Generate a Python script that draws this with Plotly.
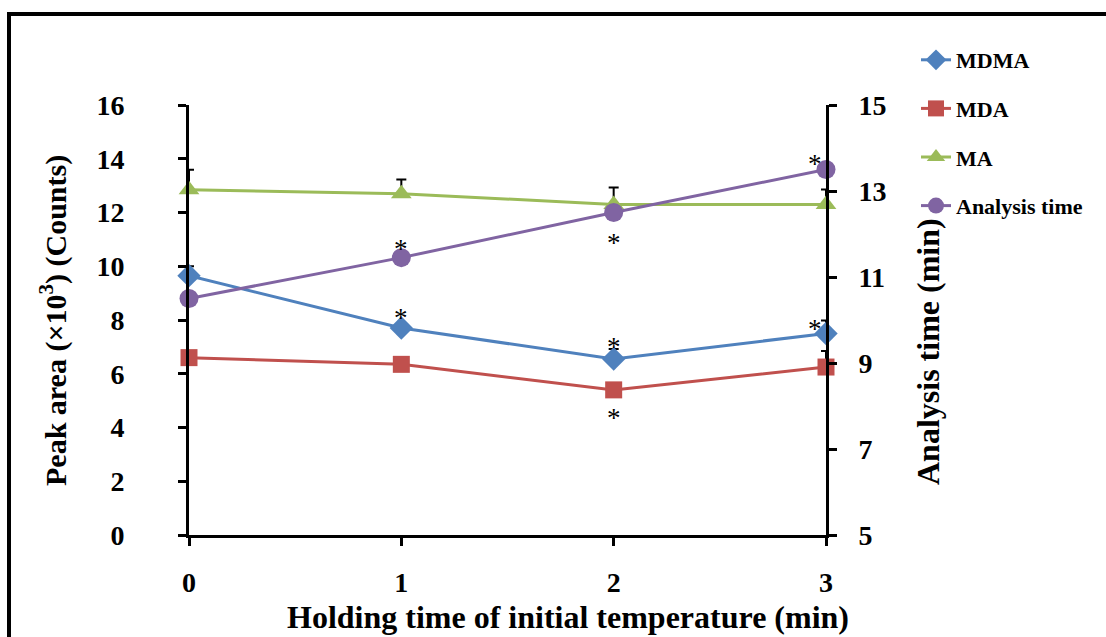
import plotly.graph_objects as go

# ---------------- data ----------------
holding_time = [0, 1, 2, 3]
mdma = [9.65, 7.7, 6.55, 7.5]
mdma_err = [0.35, 0.0, 0.37, 0.48]
mda = [6.6, 6.35, 5.4, 6.25]
mda_err = [0.0, 0.0, 0.0, 0.6]
ma = [12.85, 12.7, 12.3, 12.3]
ma_err = [0.74, 0.53, 0.63, 0.56]
analysis_time = [10.5, 11.45, 12.5, 13.5]

left_ticks = [0, 2, 4, 6, 8, 10, 12, 14, 16]
right_ticks = [5, 7, 9, 11, 13, 15]
x_ticks = [0, 1, 2, 3]

# significance marks: (series, x index)
stars_left = [("MDMA", 1), ("MDMA", 2), ("MDMA", 3), ("MDA", 2)]
stars_right = [1, 2, 3]

# ---------------- style ----------------
FONT = "Liberation Serif"
C_MDMA = "#4F81BD"
C_MDA = "#C0504D"
C_MA = "#9BBB59"
C_AT = "#8064A2"

W, H = 1106, 637
L, R, T, B = 189, 280, 105, 102
PW, PH = W - L - R, H - T - B


def px_x(p):
    return (p - L) / PW


def px_y(p):
    return (H - B - p) / PH


fig = go.Figure()


def err(arr):
    return dict(type="data", symmetric=False, array=arr, arrayminus=[0] * len(arr),
                color="black", thickness=2, width=5)


fig.add_trace(go.Scatter(x=holding_time, y=mdma, name="MDMA", mode="lines+markers",
                         line=dict(color=C_MDMA, width=3),
                         marker=dict(symbol="diamond", size=18, color=C_MDMA),
                         error_y=err(mdma_err), cliponaxis=False, legendgroup="a"))
fig.add_trace(go.Scatter(x=holding_time, y=mda, name="MDA", mode="lines+markers",
                         line=dict(color=C_MDA, width=3),
                         marker=dict(symbol="square", size=17, color=C_MDA),
                         error_y=err(mda_err), cliponaxis=False, legendgroup="b"))
fig.add_trace(go.Scatter(x=holding_time, y=ma, name="MA", mode="lines+markers",
                         line=dict(color=C_MA, width=3),
                         marker=dict(symbol="triangle-up", size=18, color=C_MA),
                         error_y=err(ma_err), cliponaxis=False, legendgroup="c"))
fig.add_trace(go.Scatter(x=holding_time, y=analysis_time, name="Analysis time",
                         mode="lines+markers", yaxis="y2",
                         line=dict(color=C_AT, width=3),
                         marker=dict(symbol="circle", size=19, color=C_AT),
                         cliponaxis=False, legendgroup="d"))

axis_common = dict(showgrid=False, zeroline=False, showline=True, linecolor="black",
                   linewidth=3, ticks="outside", ticklen=8, tickwidth=3, tickcolor="black",
                   tickfont=dict(family=FONT, size=28, color="black", weight="bold"))

fig.update_layout(
    width=W, height=H,
    margin=dict(l=L, r=R, t=T, b=B, pad=0),
    paper_bgcolor="white", plot_bgcolor="white",
    xaxis=dict(range=[0, 3], tickvals=x_ticks, ticklabelstandoff=12, **axis_common),
    yaxis=dict(range=[0, 16], tickvals=left_ticks, ticklabelstandoff=48, **axis_common),
    yaxis2=dict(range=[5, 15], tickvals=right_ticks, overlaying="y", side="right",
                ticklabelstandoff=16, **axis_common),
    showlegend=True,
    legend=dict(x=px_x(916), y=px_y(39), xanchor="left", yanchor="top",
                font=dict(family=FONT, size=22, color="black", weight="bold"),
                tracegroupgap=17, bgcolor="rgba(0,0,0,0)"),
)

annotations = [
    dict(text="Holding time of initial temperature (min)", xref="paper", yref="paper",
         x=px_x(568), y=px_y(617), showarrow=False, xanchor="center", yanchor="middle",
         font=dict(family=FONT, size=32, color="black", weight="bold")),
    dict(text="Peak area (×10<sup>3</sup>) (Counts)", xref="paper", yref="paper",
         x=px_x(53), y=px_y(321), showarrow=False, textangle=-90,
         xanchor="center", yanchor="middle",
         font=dict(family=FONT, size=30, color="black", weight="bold")),
    dict(text="Analysis time (min)", xref="paper", yref="paper",
         x=px_x(928), y=px_y(352), showarrow=False, textangle=-90,
         xanchor="center", yanchor="middle",
         font=dict(family=FONT, size=32, color="black", weight="bold")),
]

series_left = {"MDMA": mdma, "MDA": mda}
# pixel offsets of each star relative to its marker
left_offsets = {("MDMA", 1): (0, 16), ("MDMA", 2): (0, 18), ("MDMA", 3): (-11, 10),
                ("MDA", 2): (0, -22)}
right_offsets = {1: (0, 15), 2: (0, -24), 3: (-11, 12)}
STAR_DY = -6  # glyph baseline correction
for s, i in stars_left:
    dx, dy = left_offsets[(s, i)]
    annotations.append(dict(text="*", x=holding_time[i], y=series_left[s][i], xref="x", yref="y",
                            showarrow=False, xshift=dx, yshift=dy + STAR_DY,
                            font=dict(family=FONT, size=27, color="black")))
for i in stars_right:
    dx, dy = right_offsets[i]
    annotations.append(dict(text="*", x=holding_time[i], y=analysis_time[i], xref="x", yref="y2",
                            showarrow=False, xshift=dx, yshift=dy + STAR_DY,
                            font=dict(family=FONT, size=27, color="black")))
fig.update_layout(annotations=annotations)

# outer frame (left and top edges visible in the image)
fig.add_shape(type="rect", xref="paper", yref="paper",
              x0=px_x(9), x1=px_x(1112), y0=px_y(645), y1=px_y(14),
              line=dict(color="black", width=4), fillcolor="rgba(0,0,0,0)", layer="above")

fig.write_html("out.html")
